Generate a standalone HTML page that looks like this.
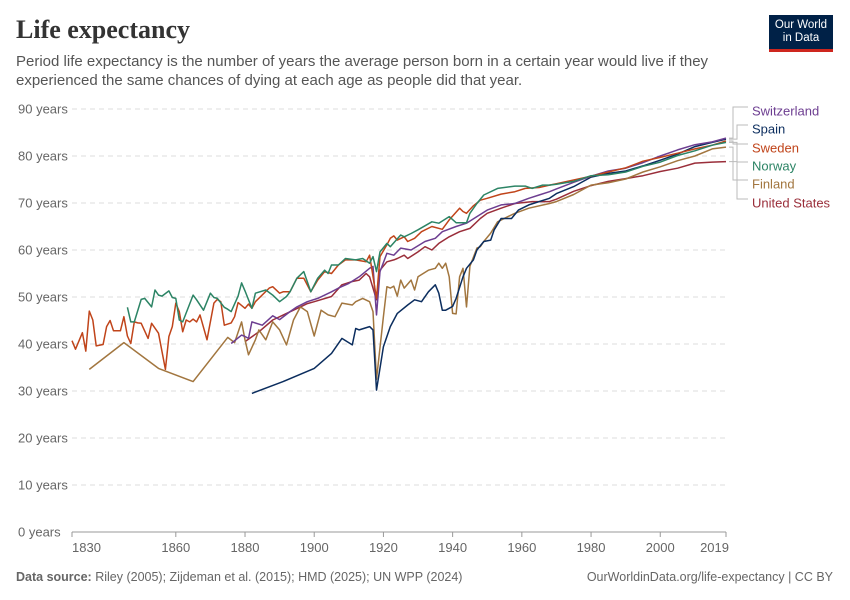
<!DOCTYPE html>
<html><head><meta charset="utf-8">
<style>
body{margin:0;background:#fff;font-family:"Liberation Sans",sans-serif;}
#wrap{position:relative;width:850px;height:600px;overflow:hidden;}
.title{position:absolute;left:16px;top:15px;font-family:"Liberation Serif",serif;font-size:26px;font-weight:bold;color:#333;}
.sub{position:absolute;left:16px;top:52px;width:720px;font-size:15px;line-height:19px;color:#555;}
.logo{position:absolute;left:769px;top:15px;width:64px;height:37px;background:#002147;color:#fff;font-size:11.5px;line-height:13px;text-align:center;padding-top:4px;box-sizing:border-box;border-bottom:3px solid #ce261e;}
.foot{position:absolute;top:570px;font-size:12.5px;color:#666;}
</style></head><body>
<div id="wrap">
<div class="title">Life expectancy</div>
<div class="sub">Period life expectancy is the number of years the average person born in a certain year would live if they experienced the same chances of dying at each age as people did that year.</div>
<div class="logo">Our World<br>in Data</div>
<svg id="chart" width="850" height="600" style="position:absolute;left:0;top:0"></svg>
<div class="foot" style="left:16px"><b>Data source:</b> Riley (2005); Zijdeman et al. (2015); HMD (2025); UN WPP (2024)</div>
<div class="foot" style="right:17px">OurWorldinData.org/life-expectancy | CC BY</div>
</div>
<script>
const yTicks=[0,10,20,30,40,50,60,70,80,90];
const xTicks=[1830,1860,1880,1900,1920,1940,1960,1980,2000,2019];
const seriesNames=["Switzerland","Spain","Sweden","Norway","Finland","United States"];
const swedenYears=[1830,1831,1833,1834,1835,1836,1837,1839,1840,1841,1842,1844,1845,1846,1847,1848,1849,1850,1852,1853,1855,1857,1858,1859,1860,1861,1862,1863,1864,1865,1866,1867,1869,1871,1872,1873,1874,1876,1877,1878,1880,1881,1882,1883,1887,1888,1890,1891,1893,1895,1897,1899,1901,1903,1905,1907,1909,1912,1915,1916,1918,1919,1921,1922,1923,1924,1926,1927,1929,1931,1934,1937,1939,1942,1943,1944,1946,1948,1950,1954,1958,1961,1965,1968,1970,1975,1980,1985,1990,1995,2000,2005,2010,2015,2019];
const swedenValues=[40.7,38.9,42.4,38.5,47.0,45.1,39.6,39.9,43.7,45.0,42.8,42.8,45.8,41.7,40.1,44.7,44.5,44.4,41.2,44.4,42.3,34.6,41.6,43.7,48.7,46.9,42.6,45.1,44.7,45.3,44.7,46.2,40.9,48.7,49.5,49.0,44.0,44.5,45.8,48.8,47.6,48.5,47.6,49.0,51.9,52.2,50.8,51.1,51.1,54.0,54.0,51.1,53.6,55.4,55.0,56.8,57.9,57.9,57.5,58.9,49.7,58.6,61.1,62.5,63.0,62.1,62.8,61.8,62.5,63.9,65.0,64.4,66.4,68.9,68.2,67.8,69.4,70.6,71.0,71.9,72.4,73.1,73.3,73.8,74.1,74.9,75.7,76.6,77.5,78.9,79.7,80.6,81.5,82.3,83.2];
const norwayYears=[1846,1847,1848,1850,1851,1853,1854,1855,1856,1858,1859,1860,1861,1862,1865,1866,1868,1870,1871,1872,1874,1875,1876,1878,1879,1880,1882,1883,1886,1888,1890,1892,1893,1895,1897,1899,1901,1903,1904,1905,1907,1909,1912,1914,1916,1917,1918,1919,1921,1922,1925,1926,1928,1930,1934,1936,1939,1941,1944,1945,1947,1949,1953,1958,1961,1963,1966,1968,1970,1975,1980,1985,1990,1995,2000,2005,2010,2015,2019];
const norwayValues=[47.8,44.7,44.7,49.5,49.7,47.9,51.5,50.4,50.2,51.3,49.9,49.7,45.1,44.7,50.4,49.4,47.2,50.8,49.9,49.7,47.8,47.4,46.9,50.2,53.0,51.3,47.6,50.8,51.5,50.4,49.0,50.1,51.1,54.0,55.4,51.1,54.0,55.7,55.0,56.8,56.8,58.2,57.9,58.2,57.2,58.6,55.4,59.6,61.4,60.7,63.2,62.8,63.5,64.3,66.0,65.7,67.1,65.8,65.8,67.8,69.9,71.7,73.1,73.6,73.6,73.1,73.8,73.8,74.0,74.6,75.8,76.0,76.6,77.8,78.7,80.1,81.1,82.3,82.9];
const switzerlandYears=[1876,1879,1880,1881,1882,1885,1888,1890,1893,1895,1898,1901,1905,1907,1910,1913,1916,1917,1918,1919,1921,1923,1925,1928,1932,1935,1937,1941,1944,1947,1950,1954,1958,1962,1965,1968,1970,1975,1980,1985,1990,1995,2000,2005,2010,2015,2019];
const switzerlandValues=[40.1,41.9,41.6,41.2,44.7,44.0,46.0,45.2,46.9,47.9,49.0,49.7,51.1,51.9,52.9,54.3,56.1,56.5,46.2,55.4,59.3,58.9,60.4,60.0,61.8,62.5,63.9,65.0,65.7,67.1,68.5,69.6,69.9,71.0,71.7,72.4,73.0,74.4,75.7,76.8,77.4,78.6,80.0,81.3,82.4,83.0,83.8];
const usYears=[1880,1884,1888,1892,1896,1898,1900,1905,1908,1911,1913,1915,1916,1918,1919,1921,1923,1924,1926,1927,1930,1932,1934,1936,1939,1942,1945,1948,1950,1954,1958,1963,1968,1970,1975,1980,1985,1990,1995,2000,2005,2010,2015,2019];
const usValues=[40.5,42.6,45.1,46.5,47.9,48.6,49.0,50.1,52.6,53.3,53.6,55.0,54.3,49.4,55.7,57.5,57.9,58.2,58.9,58.2,59.6,60.7,60.0,61.4,62.8,63.9,64.6,66.7,67.8,68.9,69.9,70.3,70.3,70.8,72.5,73.7,74.6,75.2,75.8,76.7,77.4,78.5,78.7,78.8];
const finlandYears=[1835,1845,1855,1865,1875,1877,1879,1880,1881,1883,1884,1886,1888,1890,1892,1894,1896,1898,1900,1902,1904,1906,1908,1911,1912,1914,1916,1917,1918,1920,1921,1922,1923,1924,1925,1926,1928,1929,1930,1933,1935,1936,1937,1938,1939,1940,1941,1942,1943,1944,1945,1947,1948,1949,1951,1953,1956,1958,1962,1968,1970,1975,1980,1985,1990,1995,2000,2005,2010,2015,2019];
const finlandValues=[34.6,40.3,34.8,32.0,41.4,40.3,44.7,40.9,37.7,40.9,43.0,40.9,44.7,43.0,39.8,45.1,47.9,46.9,41.7,47.2,46.2,45.8,48.7,48.3,49.0,49.7,49.0,46.9,32.5,45.8,52.2,51.9,52.3,50.2,53.6,51.9,53.6,51.5,54.3,55.7,56.1,57.2,56.1,57.2,54.3,46.5,46.4,54.3,56.1,47.9,56.5,60.4,60.7,61.8,63.6,66.0,67.1,67.8,68.9,69.9,70.3,71.8,73.8,74.3,75.1,76.6,77.7,79.0,80.0,81.5,81.9];
const spainYears=[1882,1891,1900,1905,1908,1911,1912,1913,1916,1917,1918,1920,1922,1924,1927,1929,1931,1933,1935,1936,1937,1938,1939,1940,1941,1943,1944,1946,1947,1949,1951,1952,1954,1957,1959,1962,1968,1970,1975,1980,1985,1990,1995,2000,2005,2010,2015,2019];
const spainValues=[29.5,32.0,34.8,38.0,41.2,39.8,43.3,43.0,43.7,43.0,30.2,39.4,43.7,46.5,48.3,49.4,49.0,51.1,52.6,50.8,47.2,47.2,47.6,48.0,49.7,54.3,56.1,57.9,60.0,61.8,62.1,64.3,66.7,66.7,68.5,69.6,71.0,72.0,73.5,75.5,76.3,76.8,77.9,79.1,80.4,82.0,82.9,83.6];

const X0=72,X1=726,Y0=532,Y1=109;
const xs=y=>X0+(y-1830)/(2019-1830)*(X1-X0);
const ys=v=>Y0-(v/90)*(Y0-Y1);
const svg=document.getElementById('chart');
const NS='http://www.w3.org/2000/svg';
function mk(t,a){const e=document.createElementNS(NS,t);for(const k in a)e.setAttribute(k,a[k]);svg.appendChild(e);return e;}

yTicks.forEach(v=>{
  const l=mk('line',{x1:X0,x2:X1,y1:ys(v),y2:ys(v),stroke:'#ddd','stroke-dasharray':v===0?'':'5,4'});
  
  
  const t=mk('text',{x:18,y:ys(v)+4.5,'font-size':13,fill:'#666'});
  t.textContent=v+' years';
  
  
});
const ax=mk('line',{x1:X0,x2:X1,y1:Y0,y2:Y0,stroke:'#999'});


xTicks.forEach((yr,i)=>{
  const tk=mk('line',{x1:xs(yr),x2:xs(yr),y1:Y0,y2:Y0+5,stroke:'#999'});
  
  
  const anchor=i===0?'start':(i===xTicks.length-1?'end':'middle');
  const t=mk('text',{x:i===xTicks.length-1?X1+3:xs(yr),y:Y0+20,'font-size':13,fill:'#666','text-anchor':anchor});
  t.textContent=yr;
  
  
});

const series=[
 {n:'Switzerland',c:'#6d3e91',yr:switzerlandYears,v:switzerlandValues,ly:111},
 {n:'Spain',c:'#0b2d5e',yr:spainYears,v:spainValues,ly:129},
 {n:'Sweden',c:'#c0441a',yr:swedenYears,v:swedenValues,ly:148},
 {n:'Norway',c:'#2c8465',yr:norwayYears,v:norwayValues,ly:166},
 {n:'Finland',c:'#a2763f',yr:finlandYears,v:finlandValues,ly:184},
 {n:'United States',c:'#9a2e3a',yr:usYears,v:usValues,ly:203}
];
const draw=['United States','Finland','Spain','Switzerland','Sweden','Norway'];
draw.forEach(nm=>{
  const s=series.find(q=>q.n===nm);
  const d=s.yr.map((y,i)=>(i?'L':'M')+xs(y).toFixed(1)+','+ys(s.v[i]).toFixed(1)).join('');
  const p=mk('path',{d:d,fill:'none',stroke:s.c,'stroke-width':1.5,'stroke-linejoin':'round'});
  
  
});
series.forEach((s,i)=>{
  const endY=ys(s.v[s.v.length-1]);
  const mx=733+(i%2?4:0);
  const c=mk('path',{d:`M${X1+3},${endY.toFixed(1)}H${mx}V${s.ly-4}H${748}`,fill:'none',stroke:'#bbb','stroke-width':1});
  
  
  const t=mk('text',{x:752,y:s.ly+4.5,'font-size':13,fill:s.c});
  t.textContent=s.n;
  
  
});
</script>
</body></html>
